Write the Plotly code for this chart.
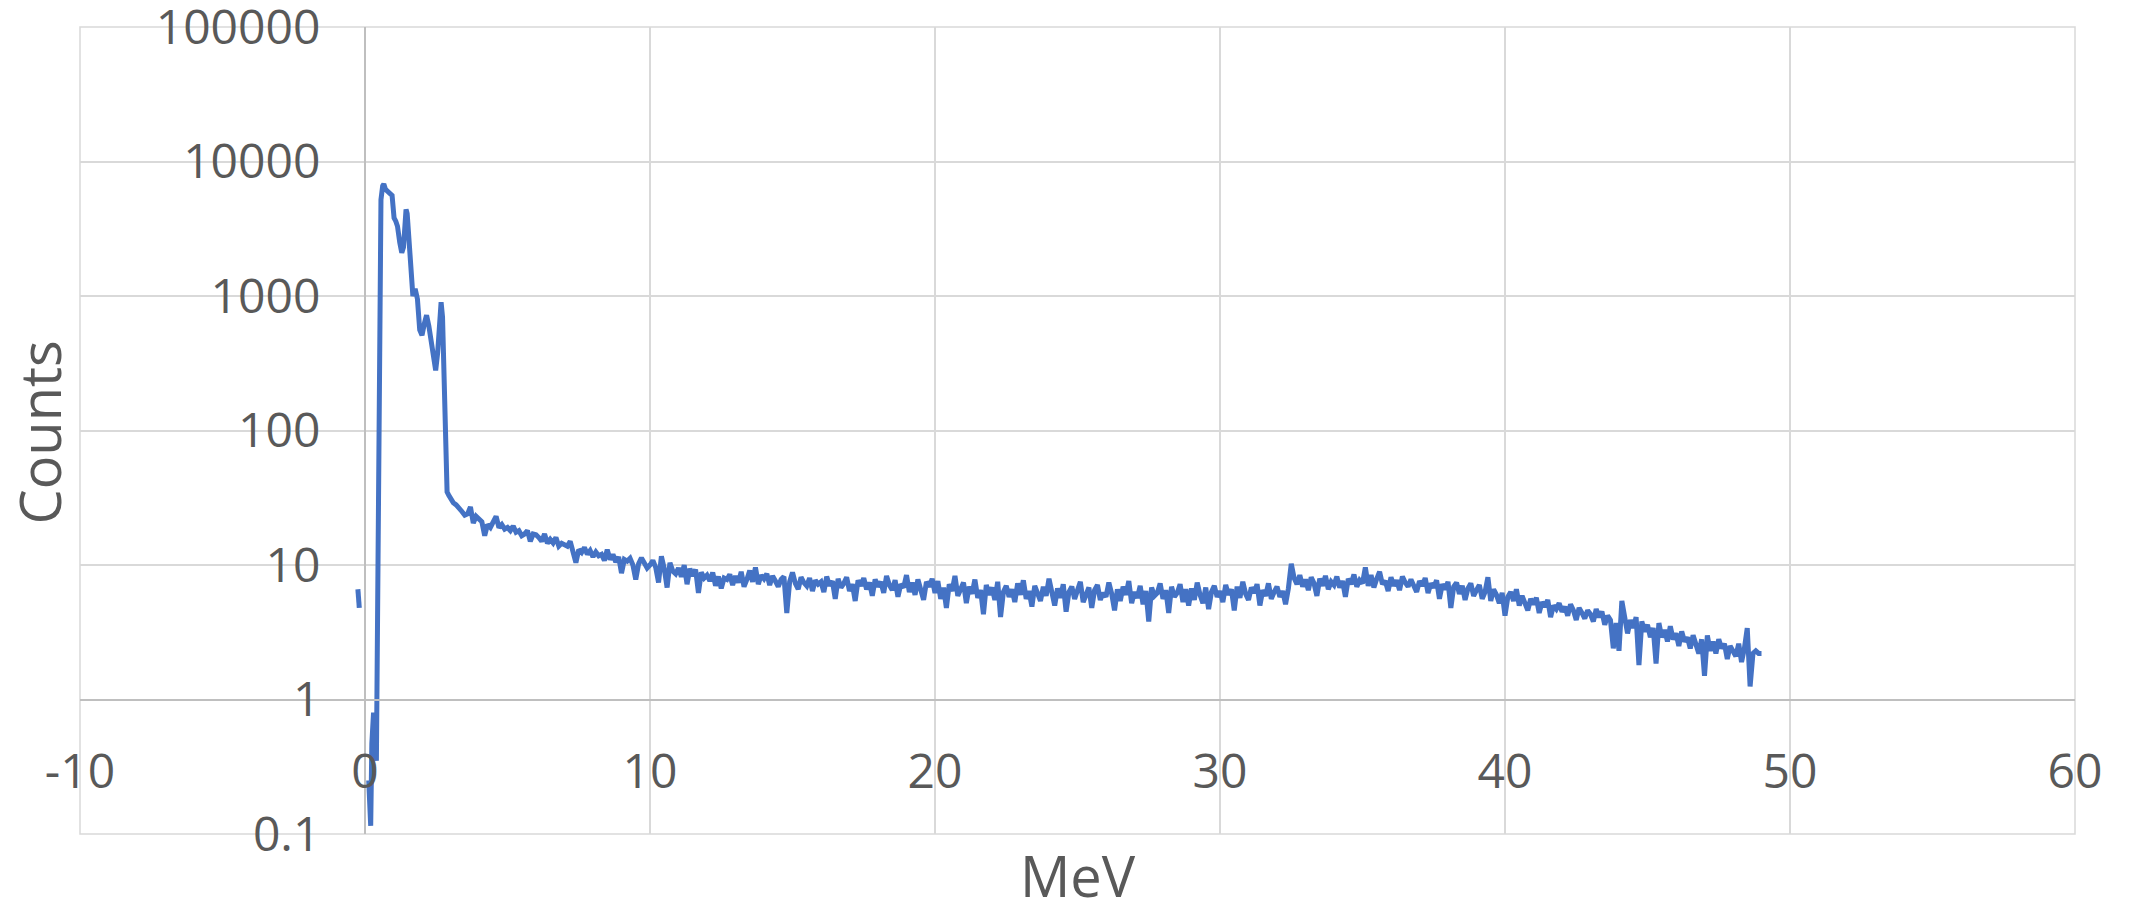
import plotly.graph_objects as go

# ---- low-energy part (explicit energies, MeV) ----
energy_low = [-0.25, -0.20, -0.10, 0.13, 0.20, 0.24, 0.30, 0.40, 0.56, 0.62,
              0.66, 0.72, 0.80, 0.87, 0.95, 1.02, 1.08, 1.14, 1.22, 1.29,
              1.35, 1.44, 1.48, 1.55, 1.62, 1.68, 1.76, 1.84, 1.92, 2.00,
              2.08, 2.16, 2.24, 2.32, 2.40, 2.48, 2.55, 2.62, 2.67, 2.72,
              2.78, 2.83, 2.88, 2.94]
counts_low = [6.6, 4.8, None, 0.25, 0.115, 0.47, 0.8, 0.35, 5200, 6600,
              6800, 6200, 5900, 5800, 5600, 3800, 3600, 3300, 2500, 2100,
              2300, 4400, 4100, 2400, 1250, 1000, 1130, 950, 560, 510,
              620, 720, 600, 440, 340, 280, 380, 700, 900, 700,
              250, 90, 35, 33]

# ---- continuum, 0.1 MeV bins starting at 3.0 MeV ----
cont_start = 3.0
cont_step = 0.1
counts_cont = [
    31, 29, 28, 26, 25, 23.5, 24, 27, 20.5, 23,            # 3
    22, 21, 16.5, 20, 19, 21, 23, 19, 20, 18.5,            # 4
    19, 18, 19.5, 17.5, 18, 16.5, 17, 18, 15, 17,          # 5
    16.8, 16, 15, 17, 14.5, 15.5, 14.6, 16, 13.8, 14.5,    # 6
    14, 13.8, 15, 12.5, 10.4, 13, 12.4, 13.5, 12, 12.8,    # 7
    11.5, 12.5, 11.7, 12, 10.8, 13, 11, 12, 10.5, 11.5,    # 8
    8.7, 11, 10.7, 11.2, 10, 7.8, 10.2, 11.3, 10.5, 9.5,   # 9
    10, 10.8, 9.6, 7.4, 11.6, 9.4, 6.8, 10.4, 9, 8.6,      # 10
    9.5, 8.2, 10, 7.2, 9.4, 8.3, 9.25, 6.2, 8.8, 8,        # 11
    8.4, 7.6, 8.8, 7, 8.2, 6.7, 8, 7.8, 8.5, 7.1,          # 12
    8.3, 7.4, 8.9, 6.9, 7.8, 9.1, 7.5, 9.6, 7.2, 8.4,      # 13
    7.9, 8.6, 7.1, 8.3, 7.6, 6.9, 7.8, 8.2, 4.4, 7.5,      # 14
    8.8, 7.3, 6.6, 8.1, 7.4, 7.0, 8.0, 6.4, 7.7, 7.2,      # 15
    7.5, 6.3, 8.2, 7.0, 7.6, 5.6, 7.9, 6.8, 7.3, 8.1,      # 16
    6.4, 7.2, 5.4, 7.7, 7.0, 8.0, 6.6, 7.4, 5.9, 7.8,      # 17
    6.9, 7.5, 6.2, 8.3, 7.1, 6.5, 7.7, 5.8, 7.2, 6.8,      # 18
    8.4, 6.3, 7.4, 6.0, 7.8, 6.6, 5.5, 7.5, 6.9, 7.9,      # 19
    6.2, 7.6, 5.6, 6.8, 4.8, 7.2, 6.4, 8.3, 5.9, 6.6,      # 20
    7.4, 5.2, 6.9, 6.1, 7.8, 5.7, 6.5, 4.3, 7.1, 6.0,      # 21
    6.8, 5.5, 7.5, 4.1, 6.3, 7.0, 5.8, 6.6, 5.3, 7.3,      # 22
    6.0, 7.7, 5.6, 6.4, 4.9, 7.0, 6.2, 5.4, 6.9, 5.9,      # 23
    7.9, 6.1, 5.0, 6.7, 5.7, 7.2, 4.5, 6.3, 6.9, 5.6,      # 24
    6.4, 7.5, 5.3, 6.0, 6.8, 4.8, 6.5, 7.1, 5.5, 6.2,      # 25
    5.8, 7.4, 6.1, 4.6, 6.6, 5.4, 6.9, 6.0, 7.6, 5.2,      # 26
    6.3, 5.7, 7.0, 5.1, 6.4, 3.8, 6.8, 5.9, 6.2, 7.3,      # 27
    5.6, 6.5, 4.4, 6.9, 5.8, 6.2, 7.2, 5.3, 6.6, 5.0,      # 28
    6.7, 5.5, 7.4, 6.0, 5.2, 6.8, 4.7, 6.3, 7.0, 5.8,      # 29
    6.4, 5.3, 7.1, 6.0, 6.6, 4.6, 6.9, 5.7, 7.5, 6.1,      # 30
    5.5, 6.8, 6.2, 7.2, 5.0, 6.5, 5.9, 7.3, 5.6, 6.3,      # 31
    6.9, 5.8, 6.4, 5.1, 6.7, 10.2, 8.0, 7.2, 8.4, 6.9,     # 32
    7.8, 6.5, 8.1, 7.3, 5.9, 7.9, 7.0, 8.3, 6.6, 7.5,      # 33
    7.1, 8.2, 6.8, 7.6, 5.8, 7.9, 7.2, 8.5, 6.9, 7.7,      # 34
    7.3, 9.6, 7.0, 8.4, 6.8, 7.9, 8.9, 7.2, 7.6, 6.4,      # 35
    8.1, 7.0, 7.7, 6.5, 8.2, 7.4, 6.9, 7.8, 7.1, 6.3,      # 36
    7.6, 7.0, 8.0, 6.2, 7.3, 6.8, 7.7, 5.6, 7.2, 6.6,      # 37
    7.5, 4.8, 6.9, 7.4, 6.1, 7.0, 5.5, 6.7, 7.3, 5.9,      # 38
    6.5, 7.1, 5.6, 6.3, 8.1, 5.4, 6.6, 6.0, 5.2, 6.2,      # 39
    4.2, 5.8, 6.3, 5.4, 6.6, 5.0, 5.9, 5.3, 4.6, 5.6,      # 40
    5.1, 5.7, 4.4, 5.3, 4.9, 5.5, 4.1, 5.0, 4.7, 5.2,      # 41
    4.5, 4.9, 4.2, 5.1, 4.6, 3.9, 4.8, 4.4, 4.0, 4.6,      # 42
    4.3, 3.8, 4.7, 4.1, 4.5, 3.6, 4.2, 3.9, 2.4, 3.7,      # 43
    2.3, 5.4, 4.2, 3.1, 3.9, 3.4, 4.1, 1.8, 3.8, 3.2,      # 44
    3.6, 2.9, 3.4, 1.85, 3.7, 2.9, 3.3, 2.7, 3.5, 2.8,     # 45
    3.1, 2.5, 3.2, 2.7, 2.9, 2.4, 3.0, 2.6, 2.2, 2.8,      # 46
    1.5, 3.0, 2.3, 2.7, 2.2, 2.8, 2.4, 2.6, 2.0, 2.5,      # 47
    2.3, 2.1, 2.6, 1.9, 2.4, 3.4, 1.25, 2.2, 2.3, 2.2,     # 48
    2.2,                                                   # 49
]
energy_cont = [round(cont_start + cont_step * i, 2) for i in range(len(counts_cont))]

energy = energy_low + energy_cont
counts = counts_low + counts_cont

# ---- axis ticks ----
x_ticks = [-10, 0, 10, 20, 30, 40, 50, 60]
x_labels = ["-10", "0", "10", "20", "30", "40", "50", "60"]
y_ticks = [0.1, 1, 10, 100, 1000, 10000, 100000]
y_labels = ["0.1", "1", "10", "100", "1000", "10000", "100000"]

x_title = "MeV"
y_title = "Counts"

FONT = "Open Sans"
TXT = "#595959"
GRID = "#d9d9d9"
AXIS = "#bfbfbf"

fig = go.Figure(go.Scatter(
    x=energy, y=counts, mode="lines",
    line=dict(color="#4472C4", width=5),
    connectgaps=False, showlegend=False, hoverinfo="skip",
))

fig.update_layout(
    width=2133, height=906,
    margin=dict(l=80, r=58, t=27, b=72, autoexpand=False),
    paper_bgcolor="white", plot_bgcolor="rgba(0,0,0,0)",
    font=dict(family=FONT, color=TXT),
    shapes=[dict(type="rect", xref="paper", yref="paper", x0=0, x1=1, y0=0, y1=1,
                 line=dict(color=GRID, width=1.5), layer="below")],
    annotations=[
        dict(text=x_title, xref="paper", yref="paper", x=0.5, y=-0.051,
             xanchor="center", yanchor="middle", showarrow=False,
             font=dict(family=FONT, size=56, color=TXT)),
        dict(text=y_title, xref="paper", yref="paper", x=-0.021, y=0.4975,
             xanchor="center", yanchor="middle", showarrow=False, textangle=-90,
             font=dict(family=FONT, size=56, color=TXT)),
    ],
)

fig.update_xaxes(
    range=[-10, 60], tickmode="array", tickvals=x_ticks, ticktext=x_labels,
    showgrid=True, gridcolor=GRID, gridwidth=1.5, zeroline=False,
    showline=True, linecolor=AXIS, linewidth=2,
    anchor="free", position=1 / 6, automargin=False,
    ticks="", ticklabelstandoff=30, ticklabeloverflow="allow",
    tickfont=dict(family=FONT, size=48, color=TXT),
)
fig.update_yaxes(
    type="log", range=[-1, 5], tickmode="array", tickvals=y_ticks, ticktext=y_labels,
    showgrid=True, gridcolor=GRID, gridwidth=1.5, zeroline=False,
    showline=True, linecolor=AXIS, linewidth=2,
    anchor="free", position=1 / 7, automargin=False,
    ticks="", ticklabelstandoff=34, ticklabeloverflow="allow",
    tickfont=dict(family=FONT, size=48, color=TXT),
)

fig.write_html("out.html")
